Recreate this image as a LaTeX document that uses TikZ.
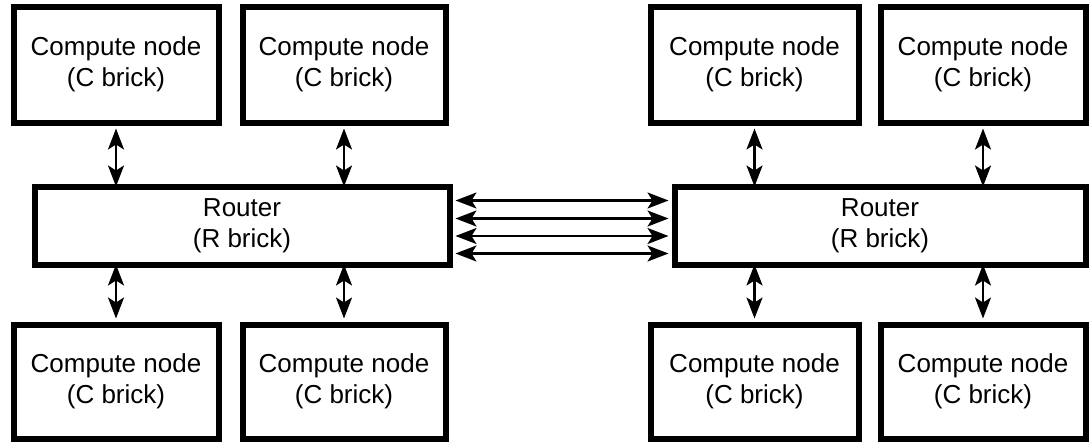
\documentclass[tikz,border=0pt]{standalone}
\usepackage{fontspec}
\setmainfont{Liberation Sans}
\usetikzlibrary{arrows.meta}
\begin{document}
\begin{tikzpicture}[x=1pt,y=-1pt,
  cbox/.style={draw,line width=6pt,minimum width=205pt,minimum height=116pt,inner sep=0pt,align=center,font=\fontsize{26}{31.5}\selectfont},
  rbox/.style={draw,line width=6pt,minimum width=415pt,minimum height=78pt,inner sep=0pt,align=center,font=\fontsize{26}{31.5}\selectfont},
  link/.style={line width=2.3pt,{Stealth[length=21pt,width=16pt,inset=5pt]}-{Stealth[length=21pt,width=16pt,inset=5pt]}}]
\useasboundingbox (0,0) rectangle (1089,442);
% left cluster
\node[cbox] (c1) at (116,64.5) {Compute node\\(C brick)};
\node[cbox,minimum width=203pt] (c2) at (344,64.5) {Compute node\\(C brick)};
\node[rbox] (r1) at (242,225.5) {Router\\(R brick)};
\node[cbox,minimum height=114pt] (c3) at (116,381.5) {Compute node\\(C brick)};
\node[cbox,minimum width=203pt,minimum height=114pt] (c4) at (344,381.5) {Compute node\\(C brick)};
% right cluster
\node[cbox,minimum width=208pt] (c5) at (754.5,64.5) {Compute node\\(C brick)};
\node[cbox] (c6) at (983,64.5) {Compute node\\(C brick)};
\node[rbox,minimum width=411pt] (r2) at (880,225.5) {Router\\(R brick)};
\node[cbox,minimum width=208pt,minimum height=114pt] (c7) at (754.5,381.5) {Compute node\\(C brick)};
\node[cbox,minimum height=114pt] (c8) at (983,381.5) {Compute node\\(C brick)};
% vertical links
\draw[link] ([yshift=-3pt]c1.south) -- ([yshift=-3pt]c1.south |- r1.north);
\draw[link] ([yshift=-3pt]c2.south) -- ([yshift=-3pt]c2.south |- r1.north);
\draw[link] ([yshift=3pt]c3.north) -- ([yshift=3pt]c3.north |- r1.south);
\draw[link] ([yshift=3pt]c4.north) -- ([yshift=3pt]c4.north |- r1.south);
\draw[link] ([yshift=-3pt]c5.south) -- ([yshift=-3pt]c5.south |- r2.north);
\draw[link] ([yshift=-3pt]c6.south) -- ([yshift=-3pt]c6.south |- r2.north);
\draw[link] ([yshift=3pt]c7.north) -- ([yshift=3pt]c7.north |- r2.south);
\draw[link] ([yshift=3pt]c8.north) -- ([yshift=3pt]c8.north |- r2.south);
% router-router links
\foreach \yy in {200.5,218.5,236,253.5}{
  \draw[link] ([xshift=3pt]r1.east |- 0,\yy) -- ([xshift=-3pt]r2.west |- 0,\yy);
}
\end{tikzpicture}
\end{document}
